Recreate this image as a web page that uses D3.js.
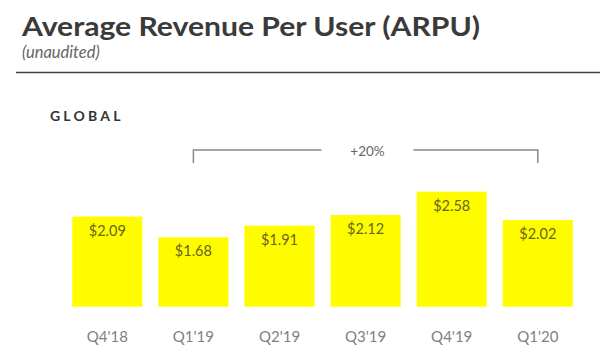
<!DOCTYPE html>
<html>
<head>
<meta charset="utf-8">
<script src="https://cdn.jsdelivr.net/npm/d3@7/dist/d3.min.js"></script>
<style>
  body { margin: 0; background: #fff; }
  svg { display: block; font-family: Lato, "Open Sans", sans-serif; }
</style>
</head>
<body>
<svg id="chart" width="600" height="353"></svg>
<script>
// data
var quarters = ["Q4'18", "Q1'19", "Q2'19", "Q3'19", "Q4'19", "Q1'20"];
var arpu = [2.09, 1.68, 1.91, 2.12, 2.58, 2.02];
var valueLabels = ["$2.09", "$1.68", "$1.91", "$2.12", "$2.58", "$2.02"];
var growthLabel = "+20%";
var growthFrom = "Q1'19";
var growthTo = "Q1'20";

var svg = d3.select("#chart");

// header
svg.append("text")
  .attr("x", 22).attr("y", 36)
  .attr("font-size", 26).attr("font-weight", 700)
  .attr("fill", "#3a3a3a")
  .attr("textLength", 458).attr("lengthAdjust", "spacingAndGlyphs")
  .text("Average Revenue Per User (ARPU)");

svg.append("text")
  .attr("x", 22).attr("y", 58)
  .attr("font-size", 16.5).attr("font-style", "italic")
  .attr("fill", "#666")
  .text("(unaudited)");

svg.append("line")
  .attr("x1", 16).attr("x2", 600)
  .attr("y1", 72.5).attr("y2", 72.5)
  .attr("stroke", "#444").attr("stroke-width", 1.5);

svg.append("text")
  .attr("x", 50).attr("y", 120.5)
  .attr("font-size", 14).attr("font-weight", 700)
  .attr("letter-spacing", 3.2)
  .attr("fill", "#333")
  .text("GLOBAL");

// scales (the bars are not drawn from zero in the source slide)
var x = d3.scaleBand()
  .domain(quarters)
  .range([72.3, 572.8])
  .paddingInner(0.187)
  .paddingOuter(0);

var y = d3.scaleLinear()
  .domain([0.31, 2.58])
  .range([306.7, 191.7]);

var g = svg.append("g");

g.selectAll("rect.bar")
  .data(arpu)
  .enter()
  .append("rect")
  .attr("class", "bar")
  .attr("x", function(d, i) { return x(quarters[i]); })
  .attr("y", function(d) { return y(d); })
  .attr("width", x.bandwidth())
  .attr("height", function(d) { return y(0.31) - y(d); })
  .attr("fill", "#fffc00");

g.selectAll("text.val")
  .data(arpu)
  .enter()
  .append("text")
  .attr("class", "val")
  .attr("x", function(d, i) { return x(quarters[i]) + x.bandwidth() / 2; })
  .attr("y", function(d) { return y(d) + 19; })
  .attr("text-anchor", "middle")
  .attr("font-size", 14.5)
  .attr("fill", "#66651c")
  .text(function(d, i) { return valueLabels[i]; });

// category axis, no line or ticks
var xAxis = svg.append("g")
  .attr("transform", "translate(0,318)")
  .call(d3.axisBottom(x).tickSize(0).tickPadding(13));
xAxis.select(".domain").remove();
xAxis.selectAll("text")
  .attr("font-family", "Lato, 'Open Sans', sans-serif")
  .attr("font-size", 15)
  .attr("fill", "#808080");

// growth bracket
var bx1 = x(growthFrom) + x.bandwidth() / 2;
var bx2 = x(growthTo) + x.bandwidth() / 2;
var by = 150, bTick = 13;
var mid = 367.5, gap = 46;

svg.append("path")
  .attr("d", "M" + bx1 + "," + (by + bTick) + "V" + by + "H" + (mid - gap))
  .attr("fill", "none").attr("stroke", "#888").attr("stroke-width", 1.5);
svg.append("path")
  .attr("d", "M" + (mid + gap) + "," + by + "H" + bx2 + "V" + (by + bTick))
  .attr("fill", "none").attr("stroke", "#888").attr("stroke-width", 1.5);

svg.append("text")
  .attr("x", mid).attr("y", 155.5)
  .attr("text-anchor", "middle")
  .attr("font-size", 13.5)
  .attr("fill", "#666")
  .text(growthLabel);
</script>
</body>
</html>
